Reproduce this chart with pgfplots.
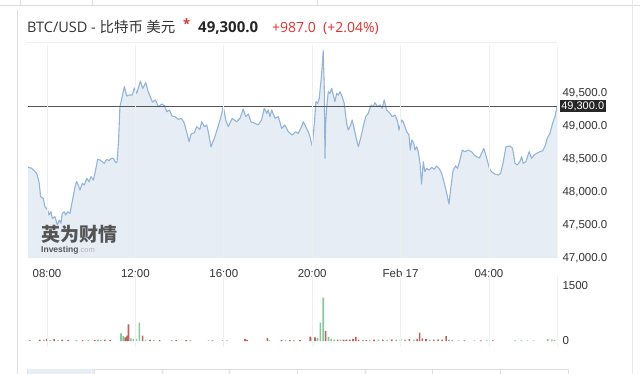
\documentclass[border=0pt]{standalone}
\usepackage{fontspec}
\setmainfont{Liberation Sans}
\newfontfamily\opensans{Open Sans}
\newfontfamily\cjk{Noto Sans CJK SC}
\usepackage{pgfplots}
\usepackage{pgfplotstable}
\pgfplotsset{compat=1.18}

\definecolor{pricefill}{HTML}{E6EDF5}
\definecolor{priceline}{HTML}{93B4D6}
\definecolor{refline}{HTML}{555555}
\definecolor{labelgray}{HTML}{333333}
\definecolor{upbar}{HTML}{86C79C}
\definecolor{downbar}{HTML}{C0605A}
\definecolor{framegray}{HTML}{DDDDDD}
\definecolor{gridgray}{HTML}{EFEFEF}
\definecolor{titlered}{HTML}{E0302E}
\definecolor{wmgray}{HTML}{555555}
\definecolor{tabfill}{HTML}{E9EEF4}

% BTC/USD, hours since Feb 16 00:00
\pgfplotstableread{
h p
7.14 48379
7.31 48359
7.53 48283
7.64 48156
7.71 47929
7.83 47904
7.91 47777
8.03 47727
8.09 47651
8.18 47701
8.24 47601
8.36 47626
8.47 47500
8.56 47576
8.63 47526
8.69 47677
8.78 47701
8.85 47651
8.94 47701
9.04 47677
9.27 48080
9.34 48156
9.42 48106
9.49 48030
9.60 48132
9.69 48106
9.80 48207
9.90 48156
9.99 48232
10.10 48182
10.20 48333
10.29 48495
10.40 48485
10.50 48459
10.59 48435
10.70 48495
10.81 48474
10.90 48510
11.00 48510
11.11 48444
11.17 48454
11.24 48788
11.30 49292
11.37 49394
11.50 49598
11.61 49454
11.71 49469
11.86 49469
11.95 49576
12.06 49495
12.23 49682
12.33 49568
12.47 49656
12.58 49519
12.68 49439
12.77 49363
12.91 49394
13.04 49292
13.19 49333
13.31 49310
13.42 49216
13.54 49242
13.66 49151
13.79 49141
13.94 49101
14.09 49116
14.21 49045
14.33 48894
14.43 48762
14.52 48879
14.67 48898
14.77 48989
14.92 48950
15.00 49065
15.12 48989
15.23 49015
15.31 48894
15.42 48682
15.60 48838
15.83 49091
15.98 49292
16.09 49091
16.20 48989
16.38 49116
16.58 49065
16.73 49116
16.88 49253
16.99 49141
17.11 49182
17.23 49065
17.41 49041
17.56 49015
17.71 49091
17.83 49268
17.94 49192
18.01 49242
18.09 49141
18.17 49242
18.32 49116
18.47 49141
18.62 48965
18.77 49015
18.92 48913
19.10 48863
19.25 48913
19.37 48889
19.52 48989
19.60 49065
19.71 48989
19.82 48913
19.90 48838
20.00 48697
20.10 49041
20.17 49368
20.25 49344
20.32 49419
20.43 49798
20.50 50141
20.55 49545
20.58 48510
20.61 49041
20.66 49292
20.73 49519
20.81 49495
20.88 49571
20.96 49469
21.03 49368
21.11 49495
21.18 49469
21.26 49519
21.36 49444
21.45 49344
21.56 49041
21.63 48939
21.74 49015
21.81 49091
21.90 48965
22.01 48788
22.09 48686
22.21 48838
22.31 48989
22.42 49141
22.54 49192
22.66 49318
22.76 49292
22.84 49353
22.96 49292
23.07 49318
23.17 49268
23.26 49394
23.37 49242
23.52 49192
23.62 49141
23.75 49166
23.87 49065
23.93 48939
24.05 49091
24.12 49065
24.20 48989
24.28 48913
24.38 48863
24.44 48636
24.51 48788
24.60 48738
24.65 48636
24.73 48686
24.80 48610
24.88 48435
24.95 48121
25.03 48459
25.10 48307
25.18 48359
25.29 48333
25.41 48374
25.52 48344
25.63 48394
25.74 48359
25.86 48283
25.98 48132
26.09 47980
26.19 47818
26.28 48080
26.38 48333
26.49 48394
26.58 48359
26.69 48485
26.79 48636
26.91 48610
27.06 48636
27.22 48610
27.33 48560
27.44 48535
27.57 48515
27.77 48662
27.90 48510
28.02 48359
28.12 48307
28.27 48273
28.42 48257
28.53 48283
28.65 48459
28.77 48686
28.95 48697
29.07 48662
29.18 48435
29.28 48409
29.40 48459
29.48 48535
29.55 48435
29.67 48459
29.82 48610
29.93 48510
30.04 48560
30.16 48586
30.31 48610
30.43 48626
30.53 48686
30.64 48813
30.76 48889
30.88 49041
30.99 49141
31.08 49300
}\price

% volume of rising intervals
\pgfplotstableread{
h v
7.22 25
7.86 35
8.14 30
8.50 25
9.33 25
9.88 30
10.31 40
10.43 30
11.35 210
11.45 130
11.79 70
11.91 60
12.04 60
12.18 500
12.46 30
12.83 25
13.65 25
14.48 25
15.31 20
15.95 25
16.14 20
18.06 25
18.80 25
19.17 25
20.00 100
20.24 80
20.37 500
20.50 1180
20.74 110
20.86 60
21.00 40
21.28 40
21.50 30
22.30 30
22.60 30
23.00 35
23.40 30
23.80 35
24.20 35
24.60 40
25.32 40
26.19 40
26.62 20
27.35 20
27.90 20
29.19 20
29.46 20
29.74 20
30.02 20
30.66 50
30.85 40
30.97 25
}\volup

% volume of falling intervals
\pgfplotstableread{
h v
7.68 40
7.99 60
8.32 50
8.69 35
8.96 25
9.61 25
10.16 30
10.62 35
10.86 30
11.54 100
11.63 150
11.69 455
12.33 150
12.66 30
13.10 25
13.84 25
14.30 25
15.49 20
16.96 60
17.05 30
17.97 80
18.61 25
18.99 25
19.45 25
19.91 120
20.13 100
20.61 273
21.15 40
21.42 40
21.56 40
21.70 40
21.85 50
21.97 110
22.10 40
22.45 30
22.80 35
23.20 40
23.60 45
24.00 50
24.40 50
24.75 60
24.86 227
24.99 70
25.15 50
25.51 40
25.70 45
25.88 40
26.06 136
26.34 20
26.89 20
27.63 20
28.18 20
}\voldown

\pgfplotsset{
  pane/.style={
    scale only axis, width=529pt, anchor=south west,
    xmin=7.14, xmax=31.08,
    axis line style={draw=none}, major tick length=0pt,
    xtick={8,12,16,20,24,28},
    xmajorgrids, major grid style={gridgray, line width=0.7pt},
    yticklabel pos=right,
    ticklabel style={font=\fontsize{11.5}{13}\selectfont, text=labelgray},
    yticklabel style={xshift=2pt},
    /pgf/number format/assume math mode=true,
    axis on top,
  }
}

\begin{document}
\begin{tikzpicture}
\useasboundingbox (0pt,0pt) rectangle (640pt,-374pt);

% page frame
\draw[framegray, line width=0.8pt] (17pt,-10pt) -- (17pt,-374pt);
\draw[framegray, line width=0.8pt] (0pt,-5pt) -- (640pt,-5pt);
\foreach \t in {20,92,317} \draw[framegray, line width=0.8pt] (\t pt,0pt) -- (\t pt,-5pt);
\draw[framegray!70, line width=0.8pt] (632pt,0pt) -- (632pt,-374pt);
\draw[gridgray, line width=0.8pt] (27pt,-42pt) -- (557pt,-42pt);

% title line
\node[anchor=base west, inner sep=0, text=labelgray, font=\opensans\fontsize{14.5}{16}\selectfont]
  at (27pt,-33pt) {BTC/USD - {\cjk 比特币 美元}};
\node[anchor=base west, inner sep=0, text=titlered, font=\opensans\bfseries\fontsize{13}{14}\selectfont]
  at (183pt,-29pt) {*};
\node[anchor=base west, inner sep=0, text=black!85, font=\opensans\bfseries\fontsize{15}{16}\selectfont]
  at (198pt,-33pt) {49,300.0};
\node[anchor=base west, inner sep=0, text=titlered, font=\opensans\fontsize{14}{16}\selectfont]
  at (272pt,-33pt) {+987.0};
\node[anchor=base west, inner sep=0, text=titlered, font=\opensans\fontsize{14}{16}\selectfont]
  at (323pt,-33pt) {(+2.04\%)};

% price pane
\begin{axis}[pane, name=price, at={(28pt,-258pt)}, height=213pt,
  ymin=47000, ymax=50227,
  ytick={47000,47500,...,49500}, scaled y ticks=false,
  yticklabel style={/pgf/number format/.cd, fixed, fixed zerofill, precision=1, 1000 sep={,}},
  xticklabels={08:00,12:00,16:00,20:00,Feb 17,04:00},
  xticklabel style={yshift=-7.5pt},
]
\addplot[draw=none, fill=pricefill] table[x=h, y=p] {\price} \closedcycle;
\addplot[priceline, line width=1.1pt, line join=round] table[x=h, y=p] {\price};
\addplot[refline, line width=1.1pt] coordinates {(7.14,49300) (31.08,49300)};
\coordinate (last) at (axis cs:31.08,49300);
\end{axis}
\draw[gridgray!80!black!20, line width=0.8pt] (price.south east) -- (price.north east);
\node[anchor=west, fill=black!85, text=white, inner sep=1.6pt, xshift=2.5pt,
  font=\fontsize{11}{12}\selectfont] at (last) {49,300.0};

% watermark
\node[anchor=base west, inner sep=0, text=wmgray, font=\cjk\bfseries\fontsize{19}{20}\selectfont]
  at (41pt,-242pt) {英为财情};
\node[anchor=base west, inner sep=0, font=\bfseries\fontsize{8.5}{9}\selectfont]
  at (41pt,-252pt) {\textcolor{wmgray}{Investing}\textcolor{gray!60}{\mdseries\fontsize{7.5}{8}\selectfont.com}};

% volume pane
\begin{axis}[pane, name=vol, at={(28pt,-346.5pt)}, height=71.5pt,
  ymin=-150, ymax=1800, ytick={0,1500},
  yticklabel style={/pgf/number format/1000 sep={}},
  xticklabels={},
]
\addplot[ybar, bar width=1.6pt, bar shift=0pt, fill=upbar, draw=none] table[x=h, y=v] {\volup};
\addplot[ybar, bar width=1.6pt, bar shift=0pt, fill=downbar, draw=none] table[x=h, y=v] {\voldown};
\end{axis}
\draw[gridgray!80!black!20, line width=0.8pt] (vol.south east) -- (vol.north east);

% tabs below the chart
\draw[framegray, line width=0.8pt] (27pt,-369pt) -- (568pt,-369pt);
\fill[tabfill] (27.4pt,-369.4pt) rectangle (94pt,-374pt);
\foreach \t in {27,94,162,229,297,365,432,500,568}
  \draw[framegray, line width=0.8pt] (\t pt,-369pt) -- (\t pt,-374pt);
\end{tikzpicture}
\end{document}
